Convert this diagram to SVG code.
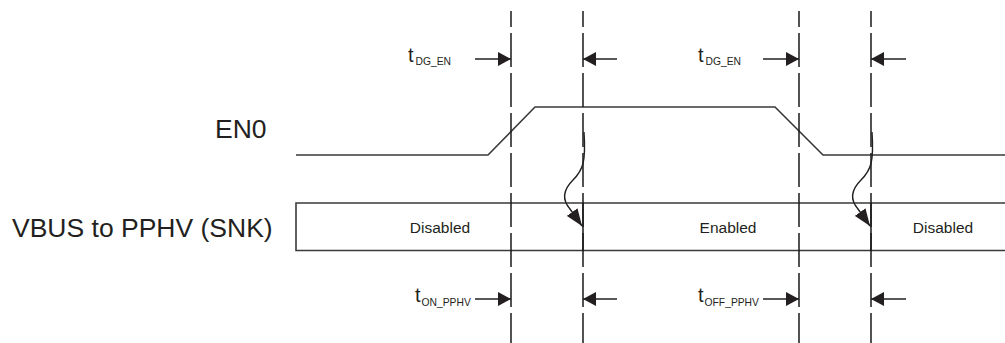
<svg xmlns="http://www.w3.org/2000/svg" width="1005" height="343" viewBox="0 0 1005 343">
<style>
  .lbl { font-family: "Liberation Sans", Arial, sans-serif; font-size: 26.5px; fill: #231f20; }
  .st { font-family: "Liberation Sans", Arial, sans-serif; font-size: 15.5px; fill: #231f20; text-anchor: middle; }
  .t { font-family: "Liberation Sans", Arial, sans-serif; font-size: 20px; fill: #231f20; }
  .sub { font-size: 10.3px; }
  .sig { fill: none; stroke: #3a3a3a; stroke-width: 1.6; }
  .dash { stroke: #1a1a1a; stroke-width: 1.5; stroke-dasharray: 34 6; stroke-dashoffset: 18; }
  .edge { stroke: #1a1a1a; stroke-width: 1.5; }
  .arr { stroke: #231f20; stroke-width: 1.5; fill: none; marker-end: url(#ah); }
  .curve { stroke: #231f20; stroke-width: 1.4; fill: none; marker-end: url(#ahc); }
</style>
<defs>
  <marker id="ah" viewBox="0 0 13 14" refX="13" refY="7" markerWidth="13" markerHeight="14" markerUnits="userSpaceOnUse" orient="auto">
    <path d="M0,0 L13,7 L0,14 z" fill="#231f20"/>
  </marker>
  <marker id="ahc" viewBox="0 0 17 13" refX="17" refY="6.5" markerWidth="17" markerHeight="13" markerUnits="userSpaceOnUse" orient="auto">
    <path d="M0,0 L17,6.5 L0,13 z" fill="#231f20"/>
  </marker>
</defs>

<g id="en0-label"><text class="lbl" x="215" y="138">EN0</text></g>
<g id="vbus-label"><text class="lbl" x="12" y="237">VBUS to PPHV (SNK)</text></g>

<g id="en0-waveform">
  <polyline class="sig" points="296,155 488,155 535,107 775,107 823,155 1005,155"/>
</g>

<g id="vbus-bus">
  <polyline class="sig" points="1005,203 296,203 296,250.5 1005,250.5"/>
  <text class="st" x="440" y="233">Disabled</text>
  <text class="st" x="728" y="233">Enabled</text>
  <text class="st" x="943" y="233">Disabled</text>
</g>

<g id="timing-labels">
  <text class="t" x="408" y="62">t<tspan class="sub" dx="2" dy="3">DG_EN</tspan></text>
  <text class="t" x="698" y="62">t<tspan class="sub" dx="2" dy="3">DG_EN</tspan></text>
  <text class="t" x="415" y="302">t<tspan class="sub" dx="1" dy="4">ON_PPHV</tspan></text>
  <text class="t" x="698" y="302">t<tspan class="sub" dx="1" dy="4">OFF_PPHV</tspan></text>
</g>

<g id="connectors">
  <line class="dash" x1="511" y1="11" x2="511" y2="343"/>
  <line class="dash" x1="583" y1="11" x2="583" y2="343"/>
  <line class="dash" x1="799" y1="11" x2="799" y2="343"/>
  <line class="dash" x1="871" y1="11" x2="871" y2="343"/>
  <line class="edge" x1="583" y1="203" x2="583" y2="250.5"/>
  <line class="edge" x1="871" y1="203" x2="871" y2="250.5"/>

  <line class="arr" x1="475" y1="59" x2="511" y2="59"/>
  <line class="arr" x1="617" y1="59" x2="583" y2="59"/>
  <line class="arr" x1="763" y1="59" x2="799" y2="59"/>
  <line class="arr" x1="906" y1="59" x2="871" y2="59"/>
  <line class="arr" x1="475" y1="299" x2="511" y2="299"/>
  <line class="arr" x1="617" y1="299" x2="583" y2="299"/>
  <line class="arr" x1="763" y1="299" x2="799" y2="299"/>
  <line class="arr" x1="906" y1="299" x2="871" y2="299"/>

  <path class="curve" d="M584,132 C586,162 583,170 573,180 C562,191 563,201 570,209 L582,226"/>
  <path class="curve" d="M872,132 C874,162 871,170 861,180 C850,191 851,201 858,209 L870,226"/>
</g>
</svg>
